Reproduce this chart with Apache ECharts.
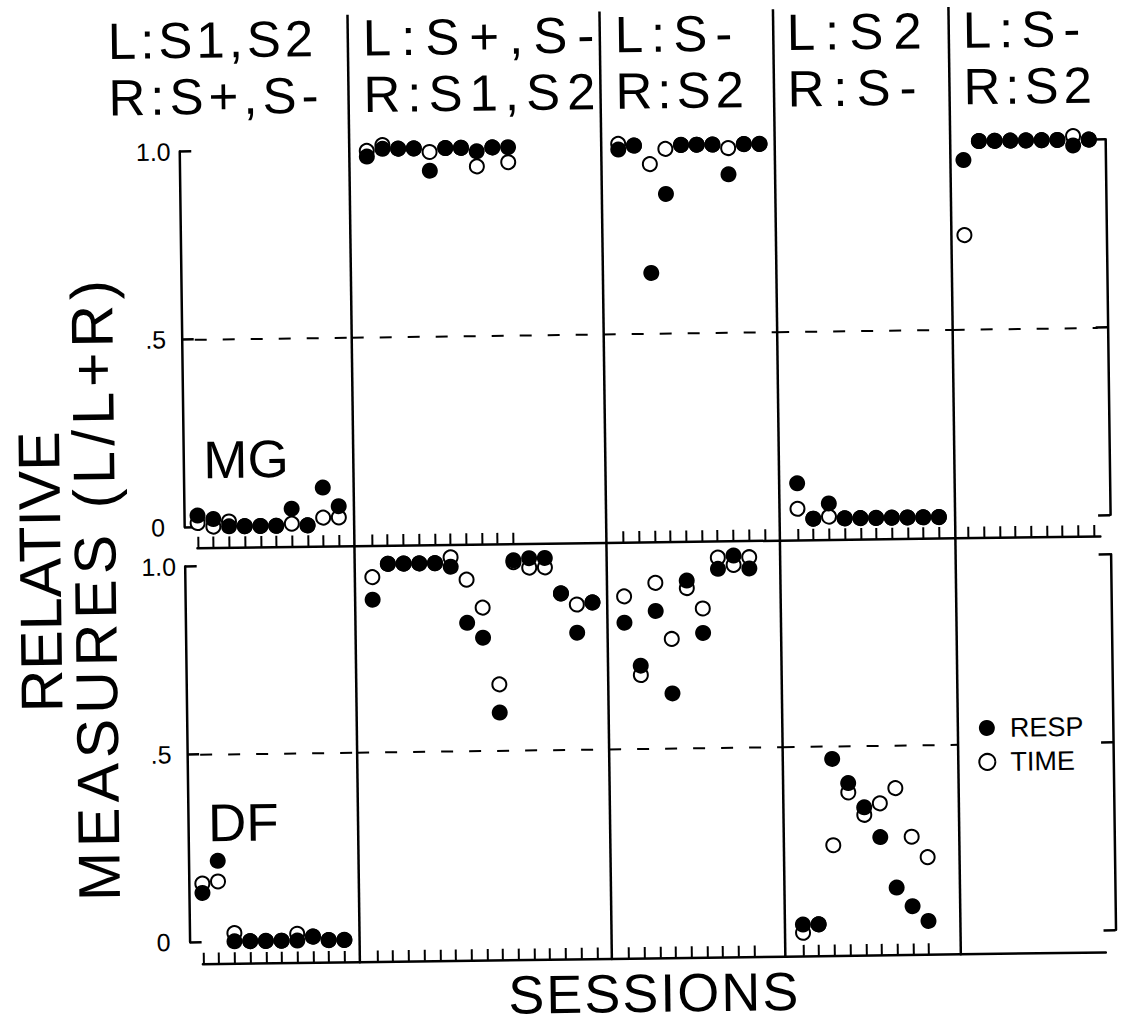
<!DOCTYPE html>
<html>
<head>
<meta charset="utf-8">
<title>Relative measures (L/L+R) by session</title>
<script src="https://cdn.jsdelivr.net/npm/echarts@6.0.0/dist/echarts.min.js"></script>
<style>
  html, body { margin: 0; padding: 0; background: #fff; }
  /* the scanned figure sits slightly rotated */
  #chart { width: 1126px; height: 1023px; transform: rotate(-0.75deg); }
</style>
</head>
<body>
<div id="chart"></div>
<script>
// phase headers
const phaseLeft = ['L:S1,S2', 'L:S+,S-', 'L:S-', 'L:S2', 'L:S-'];
const phaseRight = ['R:S+,S-', 'R:S1,S2', 'R:S2', 'R:S-', 'R:S2'];
const subjects = ['MG', 'DF'];
const yTickValues = [0, 0.5, 1];
const yTickLabels = ['0', '.5', '1.0'];

// MG: RESP (filled) and TIME (open), one array per phase
const mgResp1 = [0.03, 0.02, 0, 0, 0, 0, 0.045, 0, 0.1, 0.05];
const mgTime1 = [0.01, 0, 0.013, 0, 0, 0, 0.005, 0, 0.02, 0.02];
const mgResp2 = [0.98, 1.0, 1.0, 1.0, 0.94, 1.0, 1.0, 0.99, 1.0, 1.0];
const mgTime2 = [0.995, 1.01, 1.0, 1.0, 0.99, 1.0, 1.0, 0.95, 1.0, 0.96];
const mgResp3 = [0.99, 1.0, 0.66, 0.87, 1.0, 1.0, 1.0, 0.92, 1.0, 1.0];
const mgTime3 = [1.005, 1.0, 0.95, 0.99, 1.0, 1.0, 1.0, 0.99, 1.0, 1.0];
const mgResp4 = [0.095, 0, 0.04, 0, 0, 0, 0, 0, 0, 0];
const mgTime4 = [0.027, 0, 0.005, 0, 0, 0, 0, 0, 0, 0];
const mgResp5 = [0.95, 1.0, 1.0, 1.0, 1.0, 1.0, 1.0, 0.985, 1.0];
const mgTime5 = [0.75, 1.0, 1.0, 1.0, 1.0, 1.0, 1.0, 1.01, 1.0];

// DF
const dfResp1 = [0.13, 0.215, 0, 0, 0, 0, 0, 0.01, 0, 0];
const dfTime1 = [0.155, 0.16, 0.022, 0, 0, 0, 0.018, 0.01, 0, 0];
const dfResp2 = [0.905, 1.0, 1.0, 1.0, 1.0, 0.99, 0.84, 0.8, 0.6, 1.005, 1.01, 1.01, 0.915, 0.81, 0.89];
const dfTime2 = [0.965, 1.0, 1.0, 1.0, 1.0, 1.015, 0.955, 0.88, 0.675, 1.0, 0.985, 0.985, 0.915, 0.885, 0.89];
const dfResp3 = [0.835, 0.72, 0.865, 0.645, 0.945, 0.805, 0.975, 1.01, 0.975];
const dfTime3 = [0.905, 0.695, 0.94, 0.79, 0.925, 0.87, 1.005, 0.985, 1.005];
const dfResp4 = [0.025, 0.025, 0.465, 0.4, 0.335, 0.255, 0.12, 0.07, 0.03];
const dfTime4 = [0.003, 0.025, 0.235, 0.375, 0.315, 0.345, 0.385, 0.255, 0.2];
const dfResp5 = [];
const dfTime5 = [];

const respRows = [[mgResp1, mgResp2, mgResp3, mgResp4, mgResp5], [dfResp1, dfResp2, dfResp3, dfResp4, dfResp5]];
const timeRows = [[mgTime1, mgTime2, mgTime3, mgTime4, mgTime5], [dfTime1, dfTime2, dfTime3, dfTime4, dfTime5]];

// layout (px)
const font = '"Liberation Sans", Arial, Helvetica, sans-serif';
const colEdges = [197, 354, 606, 779.5, 955, 1100];
const firstSession = [197.5, 371.5, 623, 797.5, 968];
const sessionStep = 15.7;
const rowTop = [146.5, 561.5];
const rowHeight = 375.5;
const leftAxisX = 184, rightAxisX = 1110;
const headerX = [114, 369, 621, 793, 969];
const dashShown = [[1, 1, 1, 1, 1], [1, 1, 1, 1, 0]];
// the lettering in the original is widely spaced
const letterSpacing = {
  'L:S1,S2': 4, 'R:S+,S-': 5, 'L:S+,S-': 10, 'R:S1,S2': 7, 'L:S-': 8,
  'R:S2': 5, 'L:S2': 10, 'R:S-': 9, 'MEASURES (L/L+R)': 5, 'SESSIONS': 2
};

const black = '#000';
const grids = [], xAxes = [], yAxes = [], series = [];

for (let r = 0; r < 2; r++) {
  for (let c = 0; c < 5; c++) {
    const i = grids.length;
    const left = colEdges[c], width = colEdges[c + 1] - colEdges[c];
    grids.push({left, top: rowTop[r], width, height: rowHeight, outerBoundsMode: 'none'});

    const resp = respRows[r][c], time = timeRows[r][c];
    const sessions = resp.map((v, k) => k + 1);
    const xMin = 1 - (firstSession[c] - left) / sessionStep;
    xAxes.push({
      gridIndex: i, type: 'value', min: xMin, max: xMin + width / sessionStep,
      position: 'bottom', offset: r === 0 ? 21 : 22,
      axisLine: {show: true, onZero: false, lineStyle: {color: black, width: 2.5}},
      axisTick: {show: sessions.length > 0, inside: true, length: 11, customValues: sessions,
        lineStyle: {color: black, width: 2}},
      axisLabel: {show: false},
      splitLine: {show: false}
    });

    const edge = c === 0 || c === 4;
    yAxes.push({
      gridIndex: i, type: 'value', min: 0, max: 1, show: edge,
      position: c === 4 ? 'right' : 'left',
      offset: c === 0 ? left - leftAxisX : c === 4 ? rightAxisX - colEdges[5] : 0,
      axisLine: {show: true, onZero: false, lineStyle: {color: black, width: 2.5}},
      axisTick: {show: true, inside: true, length: 12, customValues: yTickValues,
        lineStyle: {color: black, width: 2.5}},
      axisLabel: {show: c === 0, customValues: yTickValues, margin: 26, align: 'center',
        color: black, fontSize: 25, fontFamily: font,
        formatter: v => yTickLabels[yTickValues.indexOf(v)]},
      splitLine: {show: false}
    });

    series.push({
      name: 'TIME', type: 'scatter', xAxisIndex: i, yAxisIndex: i, clip: false,
      symbol: 'circle', symbolSize: 14,
      itemStyle: {color: '#fff', borderColor: black, borderWidth: 2, opacity: 1},
      data: time.map((v, k) => [sessions[k], v])
    });
    series.push({
      name: 'RESP', type: 'scatter', xAxisIndex: i, yAxisIndex: i, clip: false,
      symbol: 'circle', symbolSize: 16,
      itemStyle: {color: black, opacity: 1},
      data: resp.map((v, k) => [sessions[k], v]),
      markLine: dashShown[r][c] ? {
        silent: true, symbol: 'none', label: {show: false},
        lineStyle: {color: black, width: 2, type: [12, 16], opacity: 1},
        data: [{yAxis: 0.5}]
      } : undefined
    });
  }
}

const graphics = [];
// phase dividers
for (let c = 1; c < 5; c++) {
  graphics.push({type: 'line', shape: {x1: colEdges[c], y1: 12, x2: colEdges[c], y2: 960},
    style: {stroke: black, lineWidth: 2.5}});
}
// headers
for (let c = 0; c < 5; c++) {
  graphics.push({type: 'text', x: headerX[c], y: 35.5,
    style: {text: phaseLeft[c], fill: black, fontSize: 51, fontFamily: font, align: 'left', verticalAlign: 'middle'}});
  graphics.push({type: 'text', x: headerX[c], y: 92,
    style: {text: phaseRight[c], fill: black, fontSize: 51, fontFamily: font, align: 'left', verticalAlign: 'middle'}});
}
// subject labels
graphics.push({type: 'text', x: 204, y: 455,
  style: {text: subjects[0], fill: black, fontSize: 53, fontFamily: font, align: 'left', verticalAlign: 'middle'}});
graphics.push({type: 'text', x: 204, y: 818,
  style: {text: subjects[1], fill: black, fontSize: 53, fontFamily: font, align: 'left', verticalAlign: 'middle'}});
// axis titles
graphics.push({type: 'text', x: 40, y: 565, rotation: Math.PI / 2,
  style: {text: 'RELATIVE', fill: black, fontSize: 59, fontFamily: font, align: 'center', verticalAlign: 'middle'}});
graphics.push({type: 'text', x: 95, y: 582, rotation: Math.PI / 2,
  style: {text: 'MEASURES (L/L+R)', fill: black, fontSize: 59, fontFamily: font, align: 'center', verticalAlign: 'middle'}});
graphics.push({type: 'text', x: 648, y: 994,
  style: {text: 'SESSIONS', fill: black, fontSize: 54, fontFamily: font, align: 'center', verticalAlign: 'middle'}});

const chart = echarts.init(document.getElementById('chart'), null, {renderer: 'svg'});
chart.setOption({
  animation: false,
  backgroundColor: '#fff',
  textStyle: {fontFamily: font, color: black},
  grid: grids,
  xAxis: xAxes,
  yAxis: yAxes,
  legend: {
    data: ['RESP', 'TIME'], orient: 'vertical', left: 975, top: 720, padding: 0,
    icon: 'circle', itemWidth: 36, itemHeight: 16, itemGap: 7,
    selectedMode: false,
    textStyle: {fontSize: 27, color: black, fontFamily: font}
  },
  graphic: graphics,
  series
});

function spaceLetters() {
  chart.getDom().querySelectorAll('text').forEach(t => {
    const s = letterSpacing[t.textContent.trim()];
    if (s) t.setAttribute('letter-spacing', s);
  });
}
spaceLetters();
chart.on('finished', spaceLetters);
</script>
</body>
</html>
